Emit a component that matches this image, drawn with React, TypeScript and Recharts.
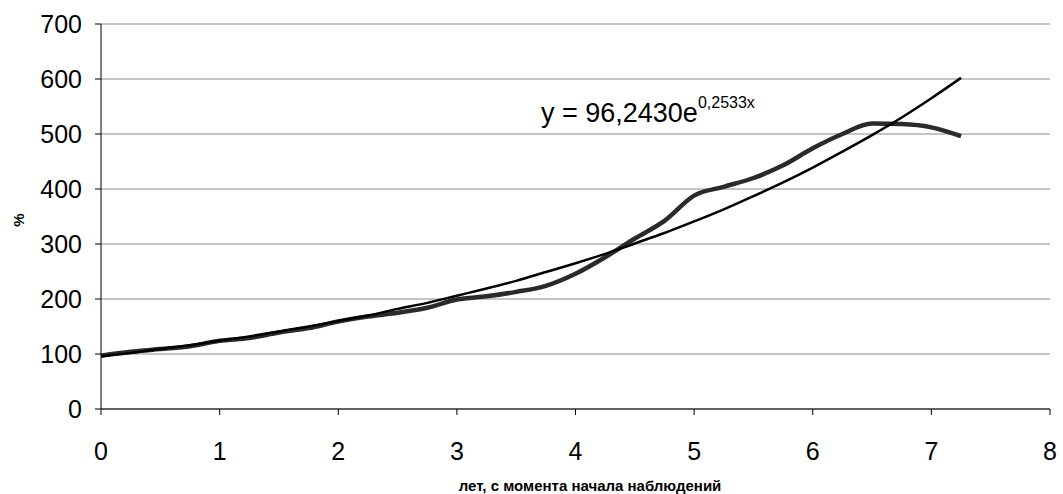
import {
  LineChart,
  Line,
  XAxis,
  YAxis,
  CartesianGrid,
} from "recharts";

// years since start of observation
const years = [
  0, 0.25, 0.5, 0.75, 1, 1.25, 1.5, 1.75, 2, 2.25, 2.5, 2.75, 3, 3.25, 3.5,
  3.75, 4, 4.25, 4.5, 4.75, 5, 5.25, 5.5, 5.75, 6, 6.25, 6.5, 6.75, 7, 7.25,
];

// observed growth, %
const observed = [
  97, 104, 109, 114, 124, 129, 139, 147, 159, 168, 175, 184, 199, 205, 213,
  224, 246, 276, 310, 342, 388, 404, 420, 443, 474, 500, 519, 518, 512, 496,
];

// exponential trend
const trend = [
  96, 102, 109, 116, 124, 132, 141, 150, 160, 170, 182, 193, 206, 219, 233,
  249, 265, 282, 301, 320, 341, 363, 387, 412, 439, 468, 498, 530, 565, 602,
];

const xTicks = [0, 1, 2, 3, 4, 5, 6, 7, 8];
const yTicks = [0, 100, 200, 300, 400, 500, 600, 700];

const chartData = years.map((x, i) => ({
  x,
  observed: observed[i],
  trend: trend[i],
}));

const font = "'Liberation Sans', Arial, sans-serif";

export default function App() {
  return (
    <div
      style={{
        position: "absolute",
        left: 0,
        top: 0,
        width: 1063,
        height: 494,
        background: "#fff",
        fontFamily: font,
      }}
    >
      <LineChart
        width={1063}
        height={494}
        data={chartData}
        margin={{ top: 24, right: 13, bottom: 25, left: 0 }}
      >
        <CartesianGrid vertical={false} stroke="#8a8a8a" strokeWidth={1} />
        <XAxis
          dataKey="x"
          type="number"
          domain={[0, 8]}
          ticks={xTicks}
          height={60}
          tickSize={6}
          tickMargin={27}
          stroke="#000"
          tick={{ fill: "#000", fontSize: 25, fontFamily: font }}
        />
        <YAxis
          type="number"
          domain={[0, 700]}
          ticks={yTicks}
          width={101}
          tickSize={6}
          tickMargin={13}
          stroke="#000"
          tick={{ fill: "#000", fontSize: 25, fontFamily: font }}
        />
        <Line
          type="monotone"
          dataKey="observed"
          stroke="#2a2a2a"
          strokeWidth={4.5}
          dot={false}
          isAnimationActive={false}
        />
        <Line
          type="monotone"
          dataKey="trend"
          stroke="#000"
          strokeWidth={2.5}
          dot={false}
          isAnimationActive={false}
        />
      </LineChart>

      <div
        style={{
          position: "absolute",
          left: 541,
          top: 98,
          fontSize: 27,
          color: "#000",
          whiteSpace: "nowrap",
        }}
      >
        y = 96,2430e
        <span style={{ fontSize: 16, position: "relative", top: -14 }}>
          0,2533x
        </span>
      </div>

      <div
        style={{
          position: "absolute",
          left: 590,
          top: 477,
          transform: "translateX(-50%)",
          fontSize: 15,
          fontWeight: "bold",
          whiteSpace: "nowrap",
          color: "#000",
        }}
      >
        лет, с момента начала наблюдений
      </div>

      <div
        style={{
          position: "absolute",
          left: 18,
          top: 220,
          transform: "translate(-50%, -50%) rotate(-90deg)",
          fontSize: 15,
          fontWeight: "bold",
          color: "#000",
        }}
      >
        %
      </div>
    </div>
  );
}
